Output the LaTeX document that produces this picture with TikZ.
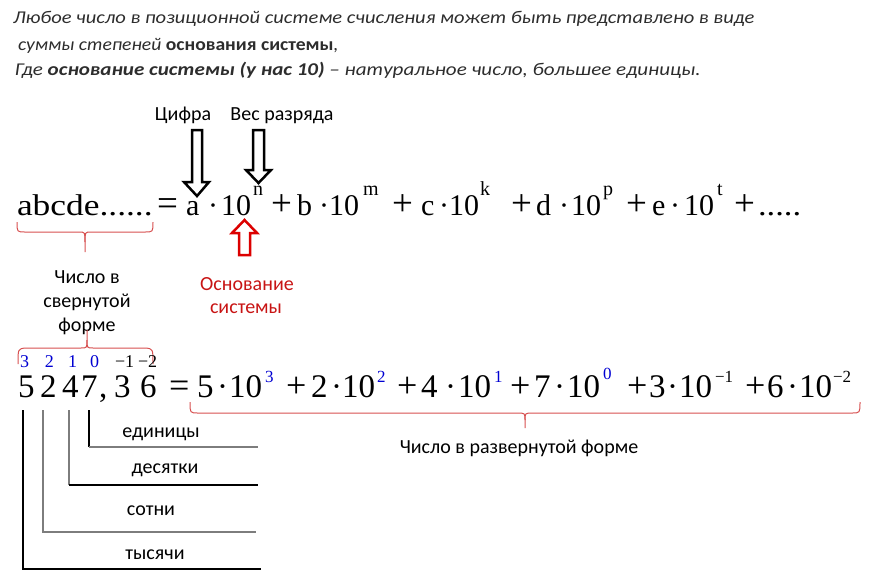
\documentclass[tikz,border=0pt]{standalone}
\usepackage{fontspec}
\setmainfont{Liberation Serif}
\newfontfamily\calf{Carlito}
\usetikzlibrary{calc}
\definecolor{txtgray}{RGB}{45,45,45}
\definecolor{bracered}{RGB}{215,80,80}
\definecolor{darkred}{RGB}{200,20,20}
\definecolor{arrowred}{RGB}{220,0,0}
\definecolor{idxblue}{RGB}{0,0,210}
\definecolor{linegray}{RGB}{125,125,125}
\newcommand\tk[5][]{\node[tok,#1] (#2) at (#3,#4) {#5};}
\tikzset{
 tok/.style={anchor=base west, inner sep=0pt, outer sep=0pt},
 fa/.style={font=\fontsize{30}{36}\selectfont},
 fao/.style={font=\fontsize{37}{44}\selectfont},
 fas/.style={font=\fontsize{20}{24}\selectfont},
 fb/.style={font=\fontsize{33}{40}\selectfont},
 fbo/.style={font=\fontsize{36}{44}\selectfont},
 fbs/.style={font=\fontsize{17}{20}\selectfont},
 fidx/.style={font=\fontsize{18}{22}\selectfont},
 blu/.style={text=idxblue},
 lbl/.style={anchor=base, inner sep=0pt, outer sep=0pt, font=\calf\fontsize{20}{24}\selectfont},
 para/.style={anchor=base west, inner sep=0pt, outer sep=0pt, text=txtgray, font=\calf\itshape\fontsize{18}{22}\selectfont},
 bracepath/.style={draw=bracered, line width=1pt},
 blockarrow/.style={draw=black, line width=2.5pt, fill=white, line join=miter},
 redarrow/.style={draw=arrowred, line width=2.5pt, fill=white, line join=miter},
 bk/.style={draw=black, line width=1.5pt},
 gr/.style={draw=linegray, line width=1.5pt},
}
\begin{document}
\begin{tikzpicture}[x=1pt,y=-1pt]
\useasboundingbox (0,0) rectangle (884,579);
% paragraph
\node[para] (p1) at (13,23) {\scalebox{1.14}[1]{Любое число в позиционной системе счисления может быть представлено в виде}};
\node[para] (p2) at (18,50) {\scalebox{1.09}[1]{суммы степеней {\upshape\bfseries основания системы},}};
\node[para] (p3) at (15,75) {\scalebox{1.17}[1]{Где {\bfseries основание системы (у нас 10)} – натуральное число, большее единицы.}};
% labels
\node[lbl] (cif) at (183,120) {Цифра};
\node[lbl] (ves) at (282,120) {Вес разряда};
% top formula
\tk[fa]{abc}{17}{215}{\scalebox{1.18}[1]{abcde......}}
\tk[fao]{eq1}{157}{215}{=}
\tk[fa]{a1}{186}{215}{a}
\tk[fa]{d1}{208}{215}{·}
\tk[fa]{ta}{221}{215}{10}
\tk[fas]{sn}{253}{195}{n}
\tk[fao]{pl1}{271}{215}{+}
\tk[fa]{b1}{297}{215}{b}
\tk[fa]{d2}{319}{215}{·}
\tk[fa]{tb}{329}{215}{10}
\tk[fas]{sm}{363}{195}{m}
\tk[fao]{pl2}{392}{215}{+}
\tk[fa]{c1}{421}{215}{c}
\tk[fa]{d3}{439}{215}{·}
\tk[fa]{tc}{449}{215}{10}
\tk[fas]{sk}{480}{195}{k}
\tk[fao]{pl3}{511}{215}{+}
\tk[fa]{dd}{536}{215}{d}
\tk[fa]{d4}{559}{215}{·}
\tk[fa]{td}{571}{215}{10}
\tk[fas]{sp}{603}{195}{p}
\tk[fao]{pl4}{626}{215}{+}
\tk[fa]{e1}{652}{215}{e}
\tk[fa]{d5}{670}{215}{·}
\tk[fa]{te}{684}{215}{10}
\tk[fas]{st}{717}{195}{t}
\tk[fao]{pl5}{734}{215}{+}
\tk[fa]{dots}{758}{215}{\scalebox{1.15}[1]{.....}}
% block arrows
\draw[blockarrow] (192,130) -- (202,130) -- (202,182) -- (209,182) -- (197,196) -- (184,182) -- (192,182) -- cycle;
\draw[blockarrow] (253,130) -- (264,130) -- (264,170) -- (271,170) -- (258.5,183) -- (246,170) -- (253,170) -- cycle;
\draw[redarrow] (239,255) -- (250,255) -- (250,233) -- (257,233) -- (244.5,220) -- (232,233) -- (239,233) -- cycle;
% brace 1
\draw[bracepath] (17,222) .. controls (17,232) .. (25,232) -- (79,232) .. controls (85,232) .. (85,242) -- (85,252);
\draw[bracepath] (153,222) .. controls (153,232) .. (145,232) -- (91,232) .. controls (85,232) .. (85,242);
\node[lbl] (sv1) at (87,283) {Число в};
\node[lbl] (sv2) at (87,307) {свернутой};
\node[lbl] (sv3) at (87,331) {форме};
\node[lbl, text=darkred] (os1) at (247,290) {Основание};
\node[lbl, text=darkred] (os2) at (246,313) {системы};
% brace 2
\draw[bracepath] (18,364) .. controls (18,349) .. (25,348) -- (81,348) .. controls (87,348) .. (87,340) -- (87,330);
\draw[bracepath] (153,364) .. controls (153,349) .. (146,348) -- (93,348) .. controls (87,348) .. (87,340);
% index row
\tk[fidx,blu]{i3}{20}{367}{3}
\tk[fidx,blu]{i2}{45}{367}{2}
\tk[fidx,blu]{i1}{68}{367}{1}
\tk[fidx,blu]{i0}{90}{367}{0}
\tk[fidx]{im1}{115}{367}{−1}
\tk[fidx]{im2}{138}{367}{−2}
% second formula
\tk[fb]{n5}{18}{397}{5}
\tk[fb]{n2}{40}{397}{2}
\tk[fb]{n4}{62}{397}{4}
\tk[fb]{n7}{81}{397}{7}
\tk[fb]{nc}{99}{397}{,}
\tk[fb]{n3}{114}{397}{3}
\tk[fb]{n6}{140}{397}{6}
\tk[fbo]{eq2}{169}{397}{=}
\tk[fb]{x5}{197}{397}{5}
\tk[fb]{e5}{217}{397}{·}
\tk[fb]{y5}{229}{397}{10}
\tk[fbs,blu]{s3}{265}{382}{3}
\tk[fbo]{q1}{286}{397}{+}
\tk[fb]{x2}{311}{397}{2}
\tk[fb]{e2}{331}{397}{·}
\tk[fb]{y2}{342}{397}{10}
\tk[fbs,blu]{s2}{377}{382}{2}
\tk[fbo]{q2}{397}{397}{+}
\tk[fb]{x4}{421}{397}{4}
\tk[fb]{e4}{445}{397}{·}
\tk[fb]{y4}{458}{397}{10}
\tk[fbs,blu]{s1}{494}{382}{1}
\tk[fbo]{q3}{510}{397}{+}
\tk[fb]{x7}{534}{397}{7}
\tk[fb]{e7}{554}{397}{·}
\tk[fb]{y7}{567}{397}{10}
\tk[fbs,blu]{s0}{603}{379}{0}
\tk[fbo]{q4}{627}{397}{+}
\tk[fb]{x3}{649}{397}{3}
\tk[fb]{e3}{667}{397}{·}
\tk[fb]{y3}{679}{397}{10}
\tk[fbs]{sm1}{715}{382}{−1}
\tk[fbo]{q5}{745}{397}{+}
\tk[fb]{x6}{767}{397}{6}
\tk[fb]{e6}{787}{397}{·}
\tk[fb]{y6}{799}{397}{10}
\tk[fbs]{sm2}{833}{382}{−2}
% brace 3
\draw[bracepath] (190,402) .. controls (190,413) .. (198,413) -- (517,413) .. controls (525,413) .. (525,420) -- (525,428);
\draw[bracepath] (860,402) .. controls (860,413) .. (852,413) -- (533,413) .. controls (525,413) .. (525,420);
\node[lbl] (raz) at (519,453) {Число в развернутой форме};
% place-value lines
\coordinate (u0) at (89,410); \coordinate (u1) at (89,447); \coordinate (u2) at (258,447);
\coordinate (t0) at (69,410); \coordinate (t1) at (69,485); \coordinate (t2) at (258,485);
\coordinate (h0) at (43,410); \coordinate (h1) at (43,532); \coordinate (h2) at (256,532);
\coordinate (k0) at (23,410); \coordinate (k1) at (23,569); \coordinate (k2) at (261,569);
\draw[bk] (u0) -- (u1); \draw[gr] (u1) -- (u2);
\draw[gr] (t0) -- (t1); \draw[bk] (t1) -- (t2);
\draw[gr] (h0) -- (h1) -- (h2);
\draw[bk] (k0) -- (k1) -- (k2);
\node[lbl] (ed) at (161,437) {единицы};
\node[lbl] (de) at (165,473) {десятки};
\node[lbl] (so) at (151,515) {сотни};
\node[lbl] (ty) at (155,559) {тысячи};
\end{tikzpicture}
\end{document}
